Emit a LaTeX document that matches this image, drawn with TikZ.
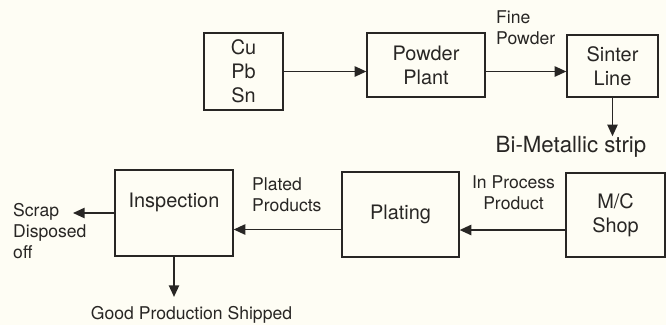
\documentclass[tikz,border=0pt]{standalone}
\usepackage{fontspec}
\setmainfont{TeX Gyre Heros}
\usetikzlibrary{arrows.meta}
\definecolor{paper}{RGB}{254,253,244}
\definecolor{ink}{RGB}{40,38,36}

\begin{document}
\begin{tikzpicture}[
  x=0.03cm, y=-0.03cm,
  >={Triangle[length=3.5mm,width=3.1mm]},
  every node/.style={text=ink},
  box/.style={draw=ink,line width=1.1pt,align=center,inner sep=0pt,
    font=\fontsize{17}{20.5}\selectfont},
  note/.style={inner sep=0pt,font=\fontsize{15}{18}\selectfont},
  flow/.style={->,line width=1.3pt,draw=ink}
]
  \fill[paper] (0,0) rectangle (666,325);
  \useasboundingbox (0,0) rectangle (666,325);

  % Upper line: raw metals to sintering.
  \node[box,minimum width=2.37cm,minimum height=2.31cm] (metals) at (243.5,71.5) {Cu\\Pb\\Sn};
  \node[box,minimum width=3.54cm,minimum height=1.92cm] (plant) at (426,65) {Powder\\Plant};
  \node[box,minimum width=2.73cm,minimum height=1.86cm] (sinter) at (612.5,66) {Sinter\\Line};
  \node[note,anchor=west,align=left] (fine) at (496,27.5) {Fine\\Powder};
  \node[note,font=\fontsize{19}{22}\selectfont] (strip) at (571,147) {Bi-Metallic strip};
  \draw[flow] (metals.east) -- (metals.east -| plant.west);
  \draw[flow] (metals.east -| plant.east) -- (metals.east -| sinter.west);
  \draw[flow] (sinter.south) -- (sinter.south |- strip.north);

  % Lower line: machining, plating and inspection.
  \node[box,minimum width=3.54cm,minimum height=2.58cm,text depth=21pt] (insp) at (174,213) {Inspection};
  \node[box,minimum width=3.51cm,minimum height=2.55cm] (plating) at (400.5,214.5) {Plating};
  \node[box,minimum width=2.97cm,minimum height=2.52cm] (shop) at (615.5,215) {M/C\\Shop};
  \node[note,anchor=west,align=left] (plated) at (252,195) {Plated\\Products};
  \node[note,align=center] (inproc) at (513.5,192.5) {In Process\\Product};
  \node[note,anchor=west,align=left] (scrap) at (13,231) {Scrap\\Disposed\\off};
  \node[note,inner ysep=8pt] (good) at (191.5,315) {Good Production Shipped};
  \coordinate (scrapend) at (73,213);
  \draw[flow] ([yshift=-.45cm]shop.west) -- ([yshift=-.45cm]shop.west -| plating.east);
  \draw[flow] ([yshift=-.45cm]plating.west) -- ([yshift=-.45cm]plating.west -| insp.east);
  \draw[flow] (insp.west) -- (scrapend);
  \draw[flow] (insp.south) -- (insp.south |- good.north);
\end{tikzpicture}
\end{document}
